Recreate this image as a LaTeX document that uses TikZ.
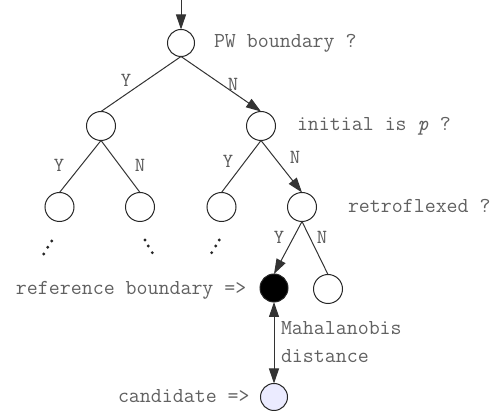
\documentclass[tikz,border=0pt]{standalone}
\usepackage{fontspec}
\usetikzlibrary{arrows.meta}
\begin{document}
\begin{tikzpicture}[x=1pt,y=-1pt,
  every node/.style={inner sep=0pt,outer sep=0pt},
  tnode/.style={circle,draw=black!85,line width=1pt,minimum size=29pt,fill=white},
  rootnode/.style={tnode,minimum size=27pt},
  refnode/.style={tnode,fill=black,minimum size=28pt},
  candnode/.style={tnode,fill=blue!8,minimum size=27pt},
  edge/.style={draw=black!80,line width=1pt},
  arr/.style={edge,-{Triangle[length=15pt,width=10pt]}},
  darr/.style={edge,{Triangle[length=15pt,width=10pt]}-{Triangle[length=15pt,width=10pt]}},
  lab/.style={anchor=base west,text=black!62,font=\fontsize{21.3}{26}\ttfamily},
  yn/.style={anchor=base,text=black!65,font=\fontsize{20}{24}\ttfamily},
  dotst/.style={fill=black!85}
]
\useasboundingbox (0,0) rectangle (501,411);
% nodes
\coordinate (start) at (181,0);
\node[rootnode] (r) at (181,43) {};
\node[tnode] (a) at (101,126) {};
\node[tnode] (b) at (261,126) {};
\node[tnode] (aa) at (59.5,207) {};
\node[tnode] (ab) at (140,207) {};
\node[tnode] (ba) at (221.5,207) {};
\node[tnode] (bb) at (302,207) {};
\node[refnode] (bba) at (274,288) {};
\node[tnode] (bbb) at (328,289) {};
\node[candnode] (c) at (274,397) {};
% edges
\draw[arr] (start) -- (r.north);
\draw[edge] (r.south) -- (a.north);
\draw[arr] (r.south) -- (b.north);
\draw[edge] (a.south) -- (aa.north);
\draw[edge] (a.south) -- (ab.north);
\draw[edge] (b.south) -- (ba.north);
\draw[arr] (b.south) -- (bb.north);
\draw[arr] (bb.south) -- (bba.north);
\draw[edge] (bb.south) -- (bbb.north);
\draw[darr] (bba.south) -- (c.north);
% Y / N labels
\node[yn] (y1) at (126,87) {Y};
\node[yn] (n1) at (233,91) {N};
\node[yn] (y2) at (59,172) {Y};
\node[yn] (n2) at (140,172) {N};
\node[yn] (y3) at (228,168) {Y};
\node[yn] (n3) at (295,164) {N};
\node[yn] (y4) at (279,244) {Y};
\node[yn] (n4) at (322,244) {N};
% dots
\foreach \p in {(51.7,241),(47.7,247.3),(43.7,254),(145,240),(148.3,246),(152.3,252.7),(219.3,240),(215.7,246),(211.7,252.7)}
  \fill[dotst] \p circle (1.6);
% text labels
\node[lab] (t1) at (214,48) {PW boundary ?};
\node[lab] (t2) at (297,131) {initial is \textit{p} ?};
\node[lab] (t3) at (348,213) {retroflexed ?};
\node[lab] (t4) at (16,295) {reference boundary =>};
\node[lab] (t5) at (118,403) {candidate =>};
\node[lab] (t6) at (281,335) {Mahalanobis};
\node[lab] (t7) at (281,363) {distance};
\end{tikzpicture}
\end{document}
